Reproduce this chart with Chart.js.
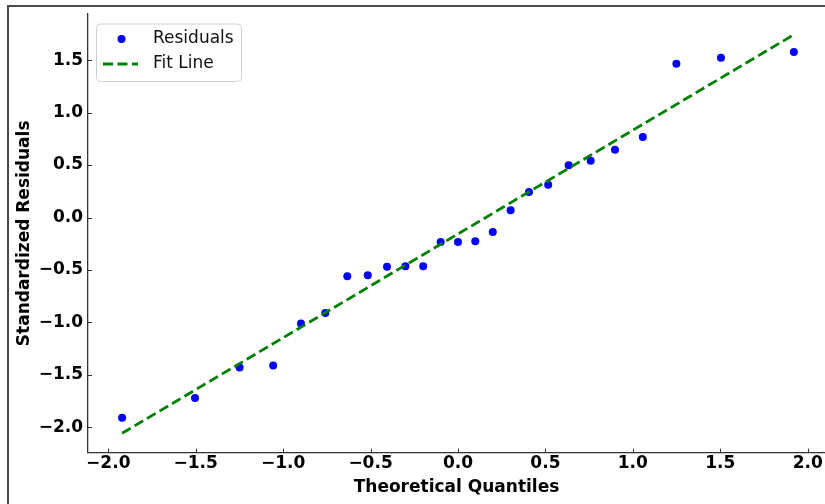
<!DOCTYPE html>
<html>
<head>
<meta charset="utf-8">
<title>Q-Q Plot</title>
<script src="https://cdn.jsdelivr.net/npm/chart.js@4.4.1/dist/chart.umd.min.js"></script>
<style>
  html, body { margin: 0; padding: 0; background: #fff; }
  #wrap { position: relative; width: 825px; height: 504px; overflow: hidden; }
  #frame { position: absolute; left: 7px; top: 5px; width: 900px; height: 600px;
           border-top: 2px solid #4a4a4a; border-left: 2px solid #4a4a4a; pointer-events: none; }
</style>
</head>
<body>
<div id="wrap">
  <canvas id="qq" width="825" height="504"></canvas>
  <div id="frame"></div>
</div>
<script>
// theoretical quantiles vs ordered standardized residuals
var quantiles = [-1.921, -1.504, -1.249, -1.057, -0.898, -0.759, -0.633, -0.516, -0.406, -0.301, -0.199, -0.099, 0.0,
                 0.099, 0.199, 0.301, 0.406, 0.516, 0.633, 0.759, 0.898, 1.057, 1.249, 1.504, 1.921];
var residuals = [-1.91, -1.72, -1.43, -1.41, -1.01, -0.91, -0.56, -0.55, -0.47, -0.465, -0.465, -0.234, -0.234,
                 -0.227, -0.138, 0.069, 0.243, 0.313, 0.498, 0.541, 0.646, 0.767, 1.466, 1.523, 1.578];

// fitted line end points
var fitX = [-1.921, 1.921];
var fitY = [-2.057, 1.743];

var xTicks = [-2.0, -1.5, -1.0, -0.5, 0.0, 0.5, 1.0, 1.5, 2.0];
var yTicks = [-2.0, -1.5, -1.0, -0.5, 0.0, 0.5, 1.0, 1.5];

var tickFont = { family: 'DejaVu Sans', size: 17, weight: 'bold' };
var dash = [10, 4.5];

function fmt(v) {
	return Number(v).toFixed(1).replace('-', '\u2212');
}

function pts(xs, ys) {
	var out = [];
	for (var i = 0; i < xs.length; i++) {
		out.push({ x: xs[i], y: ys[i] });
	}
	return out;
}

// inward tick marks, matplotlib style
var innerTicks = {
	id: 'innerTicks',
	afterDraw: function (chart) {
		var ctx = chart.ctx, a = chart.chartArea;
		var xs = chart.scales.x, ys = chart.scales.y;
		ctx.save();
		ctx.strokeStyle = '#333';
		ctx.lineWidth = 1;
		ctx.beginPath();
		xTicks.forEach(function (v) {
			var p = Math.round(xs.getPixelForValue(v)) + 0.5;
			ctx.moveTo(p, a.bottom);
			ctx.lineTo(p, a.bottom - 4);
		});
		yTicks.forEach(function (v) {
			var p = Math.round(ys.getPixelForValue(v)) + 0.5;
			ctx.moveTo(a.left, p);
			ctx.lineTo(a.left + 4, p);
		});
		ctx.stroke();
		ctx.restore();
	}
};

// legend box in the upper left of the plot
var boxLegend = {
	id: 'boxLegend',
	afterDraw: function (chart) {
		var ctx = chart.ctx, a = chart.chartArea;
		var bx = a.left + 8.5, by = a.top + 10, bw = 145, bh = 57.5, r = 4;
		ctx.save();
		ctx.beginPath();
		ctx.moveTo(bx + r, by);
		ctx.arcTo(bx + bw, by, bx + bw, by + bh, r);
		ctx.arcTo(bx + bw, by + bh, bx, by + bh, r);
		ctx.arcTo(bx, by + bh, bx, by, r);
		ctx.arcTo(bx, by, bx + bw, by, r);
		ctx.closePath();
		ctx.fillStyle = 'rgba(255,255,255,0.8)';
		ctx.fill();
		ctx.strokeStyle = '#d0d0d0';
		ctx.lineWidth = 1;
		ctx.stroke();

		var ds = chart.data.datasets;
		var row1 = by + 14.5, row2 = by + 40;
		// scatter entry
		ctx.fillStyle = ds[0].backgroundColor;
		ctx.beginPath();
		ctx.arc(bx + 25, row1 + 0.5, 4, 0, Math.PI * 2);
		ctx.fill();
		// line entry
		ctx.strokeStyle = ds[1].borderColor;
		ctx.lineWidth = ds[1].borderWidth;
		ctx.setLineDash(dash);
		ctx.beginPath();
		ctx.moveTo(bx + 6.5, row2);
		ctx.lineTo(bx + 41.5, row2);
		ctx.stroke();
		ctx.setLineDash([]);

		ctx.fillStyle = '#111';
		ctx.font = '17px "DejaVu Sans"';
		ctx.textBaseline = 'middle';
		ctx.textAlign = 'left';
		ctx.fillText(ds[0].label, bx + 56.5, row1);
		ctx.fillText(ds[1].label, bx + 56.5, row2);
		ctx.restore();
	}
};

var ctx = document.getElementById('qq').getContext('2d');

var qqChart = new Chart(ctx, {
	type: 'scatter',
	data: {
		datasets: [
			{
				label: 'Residuals',
				data: pts(quantiles, residuals),
				backgroundColor: '#0000ff',
				borderWidth: 0,
				pointRadius: 4,
				order: 1
			},
			{
				type: 'line',
				label: 'Fit Line',
				data: pts(fitX, fitY),
				borderColor: '#008000',
				borderWidth: 2.8,
				borderDash: dash,
				pointRadius: 0,
				fill: false,
				order: 0
			}
		]
	},
	options: {
		responsive: false,
		animation: false,
		devicePixelRatio: 1,
		// axes run right up to the edge of the figure
		layout: { autoPadding: false, padding: { left: 0, right: 0, top: 14, bottom: 0 } },
		plugins: {
			legend: { display: false },
			tooltip: { enabled: false }
		},
		scales: {
			x: {
				type: 'linear',
				min: -2.116,
				max: 2.099,
				afterBuildTicks: function (s) { s.ticks = xTicks.map(function (v) { return { value: v }; }); },
				afterFit: function (s) { s.height = 51.3; s.paddingLeft = 0; s.paddingRight = 0; },
				grid: { display: false, drawTicks: false },
				border: { display: true, color: '#333', width: 1.3 },
				ticks: { color: '#000', font: tickFont, padding: 1, maxRotation: 0, callback: fmt },
				title: { display: true, text: 'Theoretical Quantiles', color: '#000', font: tickFont, padding: { top: 0, bottom: 5.8 } }
			},
			y: {
				type: 'linear',
				min: -2.242,
				max: 1.940,
				afterBuildTicks: function (s) { s.ticks = yTicks.map(function (v) { return { value: v }; }); },
				afterFit: function (s) { s.width = 88; s.paddingTop = 0; s.paddingBottom = 0; },
				grid: { display: false, drawTicks: false },
				border: { display: true, color: '#333', width: 1.3 },
				ticks: { color: '#000', font: tickFont, padding: 5, callback: fmt },
				title: { display: true, text: 'Standardized Residuals', color: '#000', font: tickFont, padding: { top: 14.5, bottom: 0 } }
			}
		}
	},
	plugins: [innerTicks, boxLegend]
});
</script>
</body>
</html>
